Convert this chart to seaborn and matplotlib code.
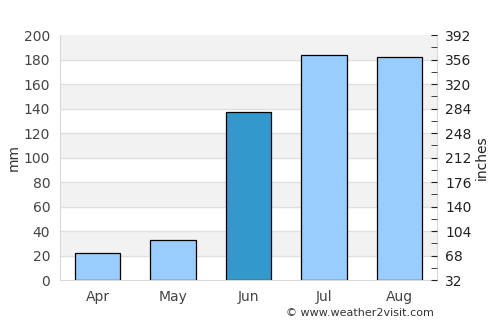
import numpy as np
import pandas as pd
import seaborn as sns
import matplotlib.pyplot as plt

months = ["Apr", "May", "Jun", "Jul", "Aug"]
rain_mm = [22, 33, 137, 184, 182]
bar_colors = ["#99ccff", "#99ccff", "#3399cc", "#99ccff", "#99ccff"]

df = pd.DataFrame({"month": months, "mm": rain_mm})

sns.set_style("white")
plt.rcParams['font.family'] = ['DejaVu Sans']

fig = plt.figure(figsize=(5, 3.25), dpi=100)
ax = fig.add_axes([0.12, 0.138, 0.754, 0.754])

# alternating background bands
for lo in range(0, 200, 20):
    if (lo // 20) % 2 == 1:
        ax.axhspan(lo, lo + 20, color="#f2f2f2", zorder=0, lw=0)
for y in range(20, 200, 20):
    ax.axhline(y, color="#e0e0e0", lw=1, zorder=0.5)

sns.barplot(data=df, x="month", y="mm", hue="month", palette=bar_colors,
            legend=False, width=0.6, edgecolor="black", linewidth=0.9,
            saturation=1, ax=ax, zorder=2)

ax.set_xlim(-0.5, 4.5)
ax.set_ylim(0, 200)
ax.set_yticks(range(0, 201, 20))
ax.set_xlabel("")
ax.set_ylabel("mm", color="#333333", fontsize=10, labelpad=2)
ax.tick_params(axis="both", length=0, colors="#444444", labelsize=10, pad=7)
for s in ["left", "bottom", "right"]:
    ax.spines[s].set_color("#d9d9d9")
ax.spines["top"].set_visible(False)

ax2 = ax.twinx()
ax2.set_ylim(32, 392)
ax2.set_yticks(np.arange(32, 393, 36))
ax2.set_yticks(np.arange(50, 393, 36), minor=True)
ax2.tick_params(axis="y", which="both", direction="in", length=4,
                colors="#222222", labelsize=10, pad=6)
ax2.set_ylabel("inches", color="#222222", fontsize=10, labelpad=2)
for s in ax2.spines.values():
    s.set_visible(False)

fig.text(0.868, 0.02, "© www.weather2visit.com", ha="right", va="bottom",
         fontsize=8, color="#333333")

fig.savefig("out.png", dpi=100)
